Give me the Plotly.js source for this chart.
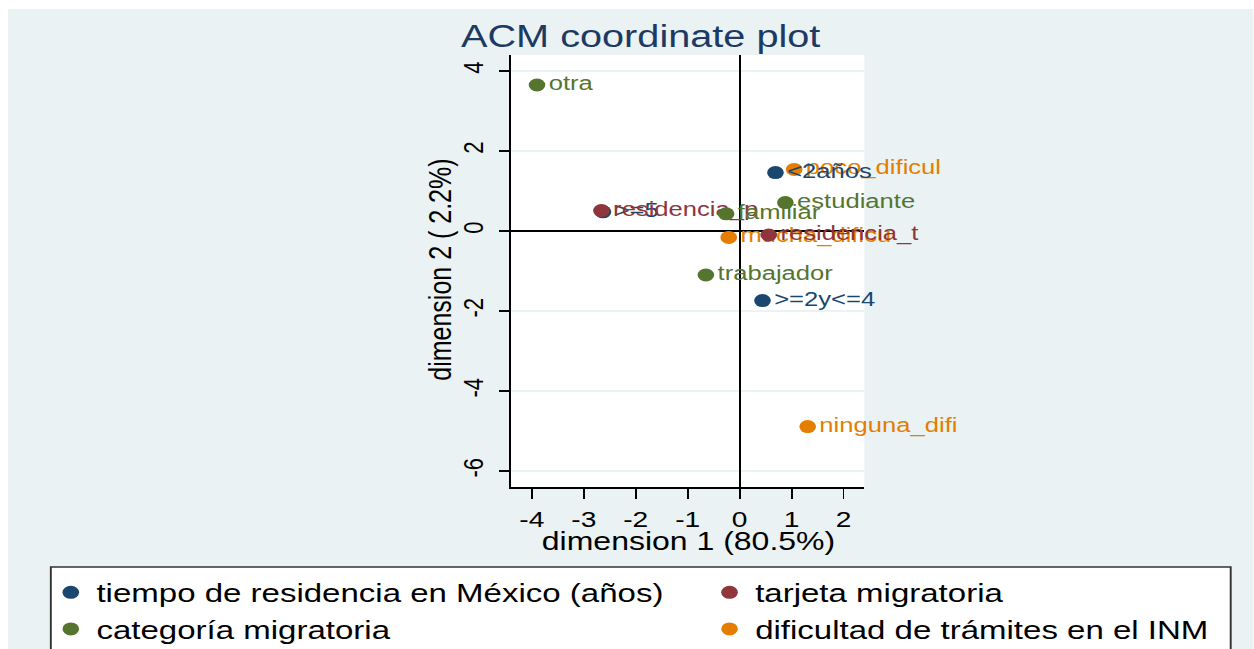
<!DOCTYPE html>
<html>
<head>
<meta charset="utf-8">
<script src="https://cdn.plot.ly/plotly-3.0.1.min.js"></script>
<style>
  html, body { margin: 0; padding: 0; background: #ffffff; width: 1254px; height: 649px; overflow: hidden; }
  #wrap { position: absolute; left: 8px; top: 9px; width: 973px; height: 640px; transform: scaleX(1.28); transform-origin: 0 0; }
  #chart { width: 973px; height: 640px; }
</style>
</head>
<body>
<div id="wrap"><div id="chart"></div></div>
<script>
// ---- data ----
const groupNames = [
  "tiempo de residencia en México (años)",
  "tarjeta migratoria",
  "categoría migratoria",
  "dificultad de trámites en el INM"
];
const groupColors = ["#1a476f", "#90353b", "#55752f", "#e37e00"];

const tiempoLabels = ["&lt;2años", ">=5", ">=2y&lt;=4"];
const tiempoDim1   = [0.69, -2.63, 0.44];
const tiempoDim2   = [1.46, 0.48, -1.74];

const tarjetaLabels = ["residencia_p", "residencia_t"];
const tarjetaDim1   = [-2.66, 0.56];
const tarjetaDim2   = [0.51, -0.10];

const categoriaLabels = ["otra", "estudiante", "familiar", "trabajador"];
const categoriaDim1   = [-3.90, 0.88, -0.26, -0.65];
const categoriaDim2   = [3.65, 0.71, 0.43, -1.10];

const dificultadLabels = ["poco_dificul", "mucha_dificu", "ninguna_difi"];
const dificultadDim1   = [1.05, -0.21, 1.31];
const dificultadDim2   = [1.54, -0.16, -4.89];

const xTicks = [-4, -3, -2, -1, 0, 1, 2];
const yTicks = [-6, -4, -2, 0, 2, 4];

const xTitle = "dimension 1 (80.5%)";
const yTitle = "dimension 2 ( 2.2%)";
const chartTitle = "ACM coordinate plot";

const FONT = "Liberation Sans, Arial, Helvetica, sans-serif";

function mk(i, xs, ys, labels, legendId, rank) {
  return {
    type: "scatter",
    mode: "markers+text",
    name: groupNames[i],
    x: xs, y: ys, text: labels,
    textposition: "middle right",
    textfont: { family: FONT, size: 20, color: groupColors[i] },
    marker: { color: groupColors[i], size: 13, line: { width: 0 } },
    cliponaxis: false,
    hoverinfo: "skip",
    legend: legendId,
    legendrank: rank
  };
}

// drawing order (bottom to top); legend order is set by legendrank
const traces = [
  mk(3, dificultadDim1, dificultadDim2, dificultadLabels, "legend2", 2),
  mk(0, tiempoDim1, tiempoDim2, tiempoLabels, "legend", 1),
  mk(1, tarjetaDim1, tarjetaDim2, tarjetaLabels, "legend2", 1),
  mk(2, categoriaDim1, categoriaDim2, categoriaLabels, "legend", 2)
];

const legendCommon = {
  orientation: "v",
  xanchor: "left", yanchor: "top",
  bgcolor: "rgba(0,0,0,0)", borderwidth: 0,
  font: { family: FONT, size: 25.8, color: "#000000" },
  traceorder: "normal"
};

const layout = {
  width: 973, height: 640,
  margin: { l: 393, r: 303.5, t: 46, b: 162, autoexpand: false },
  paper_bgcolor: "#eaf2f3",
  plot_bgcolor: "#ffffff",
  font: { family: FONT, color: "#000000" },
  title: {
    text: chartTitle,
    x: 0.508, xanchor: "center", y: 0.958, yanchor: "middle",
    font: { family: FONT, size: 31, color: "#1c3a63" }
  },
  xaxis: {
    range: [-4.4, 2.4], tickvals: xTicks, ticktext: xTicks.map(String),
    showgrid: false,
    zeroline: true, zerolinecolor: "#000000", zerolinewidth: 1.5,
    showline: true, linecolor: "#000000", linewidth: 1.5,
    ticks: "outside", ticklen: 10, tickwidth: 1.5, tickcolor: "#000000",
    tickfont: { family: FONT, size: 22, color: "#000000" },
    ticklabelstandoff: 2,
    fixedrange: true
  },
  yaxis: {
    range: [-6.4, 4.4], tickvals: yTicks, ticktext: yTicks.map(String),
    showgrid: true, gridcolor: "#eaf2f3", gridwidth: 1.5,
    zeroline: true, zerolinecolor: "#000000", zerolinewidth: 1.5,
    showline: true, linecolor: "#000000", linewidth: 1.5,
    ticks: "outside", ticklen: 8, tickwidth: 1.5, tickcolor: "#000000",
    tickangle: -90,
    tickfont: { family: FONT, size: 22, color: "#000000" },
    ticklabelstandoff: 4,
    fixedrange: true
  },
  annotations: [
    { text: xTitle, xref: "paper", yref: "paper", x: 0.503, y: -0.125,
      xanchor: "center", yanchor: "middle", showarrow: false,
      font: { family: FONT, size: 25, color: "#000000" } },
    { text: yTitle, xref: "paper", yref: "paper", x: -0.2007, y: 0.502,
      xanchor: "center", yanchor: "middle", showarrow: false, textangle: -90,
      font: { family: FONT, size: 25, color: "#000000" } }
  ],
  legend: Object.assign({}, legendCommon, { x: -1.3186, y: -0.19 }),
  legend2: Object.assign({}, legendCommon, { x: 0.546, y: -0.19 }),
  shapes: [{
    type: "rect", xref: "paper", yref: "paper",
    x0: -1.3027, x1: 2.0371, y0: -0.1852, y1: -0.5,
    fillcolor: "#ffffff", line: { color: "#333333", width: 1.5 },
    layer: "below"
  }],
  showlegend: true
};

Plotly.newPlot("chart", traces, layout, { displayModeBar: false, staticPlot: true });
</script>
</body>
</html>
